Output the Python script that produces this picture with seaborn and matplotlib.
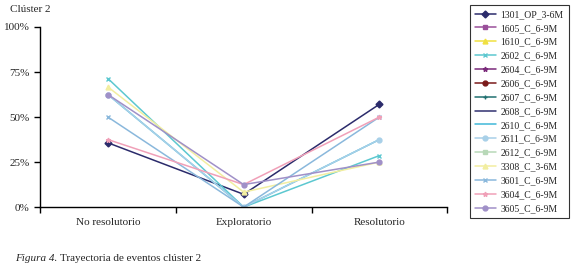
import numpy as np
import pandas as pd
import seaborn as sns
import matplotlib.pyplot as plt
from matplotlib.lines import Line2D

# categorías y series
categorias = ['No resolutorio', 'Exploratorio', 'Resolutorio']
series = ['1301_OP_3-6M', '1605_C_6-9M', '1610_C_6-9M', '2602_C_6-9M', '2604_C_6-9M',
          '2606_C_6-9M', '2607_C_6-9M', '2608_C_6-9M', '2610_C_6-9M', '2611_C_6-9M',
          '2612_C_6-9M', '3308_C_3-6M', '3601_C_6-9M', '3604_C_6-9M', '3605_C_6-9M']

# porcentajes por serie (NaN = sin datos en este clúster)
v_1301 = [35.7, 7.1, 57.1]
v_1605 = [np.nan, np.nan, np.nan]
v_1610 = [np.nan, np.nan, np.nan]
v_2602 = [71.4, 0.0, 28.6]
v_2604 = [np.nan, np.nan, np.nan]
v_2606 = [np.nan, np.nan, np.nan]
v_2607 = [np.nan, np.nan, np.nan]
v_2608 = [np.nan, np.nan, np.nan]
v_2610 = [62.5, 0.0, 37.5]
v_2611 = [62.5, 0.0, 37.5]
v_2612 = [np.nan, np.nan, np.nan]
v_3308 = [66.7, 8.3, 25.0]
v_3601 = [50.0, 0.0, 50.0]
v_3604 = [37.5, 12.5, 50.0]
v_3605 = [62.5, 12.5, 25.0]
valores = [v_1301, v_1605, v_1610, v_2602, v_2604, v_2606, v_2607, v_2608,
           v_2610, v_2611, v_2612, v_3308, v_3601, v_3604, v_3605]

colores = ['#2b2b6b', '#9a4f9a', '#f0e040', '#5cc8d0', '#7a2a7a', '#7a1a1a', '#207070',
           '#303070', '#40b8d8', '#a8d0e8', '#b8d8b8', '#f2eea0', '#8ab8dc', '#f0a0b8', '#a090c8']
marcadores = ['D', 's', '^', 'x', '*', 'o', '+', '', '', 'o', 's', '^', 'x', '*', 'o']

filas = []
for s, vals in zip(series, valores):
    for c, v in zip(categorias, vals):
        filas.append({'serie': s, 'categoria': c, 'pct': v})
df = pd.DataFrame(filas).dropna()
df['x'] = df['categoria'].map({c: i for i, c in enumerate(categorias)})

sns.set_style('white')
plt.rcParams['font.family'] = ['Liberation Serif', 'DejaVu Serif']

fig = plt.figure(figsize=(5.72, 2.70), dpi=100)
ax = fig.add_axes([0.070, 0.233, 0.712, 0.667])

# una línea por serie
for s, c, m in zip(series, colores, marcadores):
    d = df[df['serie'] == s]
    if d.empty:
        continue
    sns.lineplot(data=d, x='x', y='pct', color=c, marker=(m if m else None),
                 markersize=3.5, markeredgewidth=1, markeredgecolor=c,
                 linewidth=1.1, ax=ax)

ax.set_xlim(-0.5, 2.5)
ax.set_ylim(0, 100)
ax.set_yticks([0, 25, 50, 75, 100])
ax.set_yticklabels(['0%', '25%', '50%', '75%', '100%'], fontsize=8)
ax.set_xticks(range(3))
ax.set_xticklabels(categorias, fontsize=8)
ax.set_xticks([-0.5, 0.5, 1.5, 2.5], minor=True)
ax.tick_params(axis='x', which='major', length=0, pad=8)
ax.tick_params(axis='x', which='minor', length=4, width=1, direction='out', color='black', bottom=True)
ax.tick_params(axis='y', length=4, width=1, direction='out', color='black', left=True)
ax.set_xlabel('')
ax.set_ylabel('')
sns.despine(ax=ax)
for sp in ['left', 'bottom']:
    ax.spines[sp].set_color('black')
    ax.spines[sp].set_linewidth(1)

# leyenda con todas las series
handles = [Line2D([0], [0], color=c, marker=(m if m else None), markersize=3.5, linewidth=1.1)
           for c, m in zip(colores, marcadores)]
leg = fig.legend(handles, series, loc='upper left', bbox_to_anchor=(0.818, 0.99),
                 fontsize=7, frameon=True, fancybox=False, edgecolor='black',
                 handlelength=2.1, handletextpad=0.5, labelspacing=0.5, borderpad=0.55,
                 borderaxespad=0.2)
leg.get_frame().set_linewidth(0.8)

fig.text(0.018, 0.955, 'Clúster 2', fontsize=8)
fig.text(0.026, 0.035, 'Figura 4.', fontsize=8, style='italic')
fig.text(0.105, 0.035, 'Trayectoria de eventos clúster 2', fontsize=8)

fig.savefig('out.png', dpi=100)
